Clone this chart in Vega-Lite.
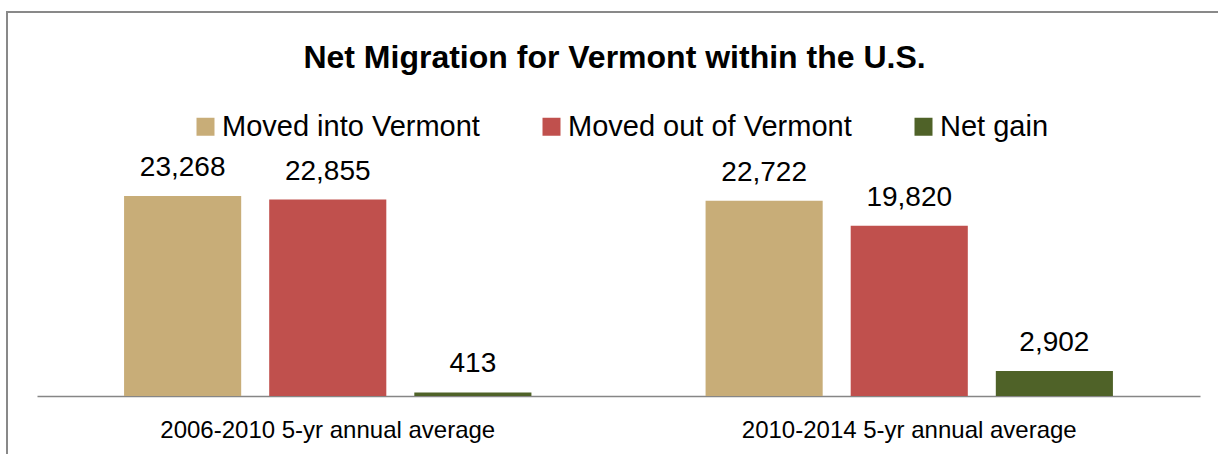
{
  "$schema": "https://vega.github.io/schema/vega-lite/v6.json",
  "width": 1215,
  "height": 447,
  "autosize": "none",
  "padding": {"left": 7, "top": 12, "right": 0, "bottom": 0},
  "background": "white",
  "config": {
    "view": {"stroke": "#898989", "strokeWidth": 2},
    "font": "Liberation Sans"
  },
  "title": {
    "text": "Net Migration for Vermont within the U.S.",
    "font": "Liberation Sans",
    "fontSize": 32,
    "fontWeight": "bold",
    "color": "black",
    "anchor": "middle",
    "frame": "group",
    "baseline": "alphabetic",
    "offset": -88
  },
  "data": {
    "values": [
      {"period": "2006-2010 5-yr annual average", "type": "Moved into Vermont", "value": 23268},
      {"period": "2006-2010 5-yr annual average", "type": "Moved out of Vermont", "value": 22855},
      {"period": "2006-2010 5-yr annual average", "type": "Net gain", "value": 413},
      {"period": "2010-2014 5-yr annual average", "type": "Moved into Vermont", "value": 22722},
      {"period": "2010-2014 5-yr annual average", "type": "Moved out of Vermont", "value": 19820},
      {"period": "2010-2014 5-yr annual average", "type": "Net gain", "value": 2902}
    ]
  },
  "encoding": {
    "x": {
      "field": "period",
      "type": "nominal",
      "scale": {"range": [30, 1193], "paddingInner": 0, "paddingOuter": 0},
      "axis": {
        "orient": "bottom",
        "offset": -63,
        "title": null,
        "ticks": false,
        "labelAngle": 0,
        "labelFont": "Liberation Sans",
        "labelFontSize": 24,
        "labelColor": "black",
        "labelPadding": 22,
        "labelLimit": 0,
        "domainColor": "#868686",
        "domainWidth": 1.5
      }
    },
    "xOffset": {
      "field": "type",
      "type": "nominal",
      "sort": ["Moved into Vermont", "Moved out of Vermont", "Net gain"],
      "scale": {"paddingInner": 0.193, "paddingOuter": 0.6}
    },
    "y": {
      "field": "value",
      "type": "quantitative",
      "scale": {"domain": [0, 23268], "range": [384, 184], "zero": true, "nice": false},
      "axis": null
    }
  },
  "layer": [
    {
      "mark": {"type": "bar"},
      "encoding": {
        "color": {
          "field": "type",
          "type": "nominal",
          "sort": ["Moved into Vermont", "Moved out of Vermont", "Net gain"],
          "scale": {
            "domain": ["Moved into Vermont", "Moved out of Vermont", "Net gain"],
            "range": ["#C8AD78", "#C0504D", "#4F6228"]
          },
          "legend": {
            "orient": "none",
            "legendX": 184,
            "legendY": 100,
            "direction": "horizontal",
            "title": null,
            "symbolType": "square",
            "symbolSize": 324,
            "symbolStrokeWidth": 0,
            "symbolOpacity": 1,
            "labelFont": "Liberation Sans",
            "labelFontSize": 29,
            "labelColor": "black",
            "labelOffset": 2,
            "columnPadding": 57,
            "labelLimit": 400
          }
        }
      }
    },
    {
      "mark": {
        "type": "text",
        "baseline": "alphabetic",
        "align": "center",
        "dy": -20,
        "font": "Liberation Sans",
        "fontSize": 28,
        "color": "black"
      },
      "encoding": {
        "text": {"field": "value", "type": "quantitative", "format": ","}
      }
    }
  ]
}
